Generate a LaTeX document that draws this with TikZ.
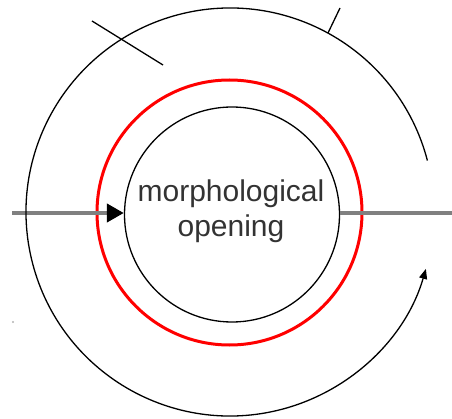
\documentclass[tikz,border=0pt]{standalone}
\usepackage{fontspec}
\setmainfont{Liberation Sans}
\usetikzlibrary{arrows.meta}
\begin{document}
\begin{tikzpicture}[x=1pt,y=1pt,
  ring/.style={circle,draw=black,line width=1.3pt,inner sep=0pt},
  redring/.style={circle,draw=red,line width=3pt,inner sep=0pt},
  feed/.style={draw=gray,line width=4pt},
  thin/.style={draw=black,line width=1.3pt},
  lbl/.style={font=\fontsize{30}{35}\selectfont,text=black!80,align=center,inner sep=0pt}]
\useasboundingbox (0,0) rectangle (452,418);
% circles
\node[ring,minimum size=215pt] (inner) at (232,203.5) {};
\node[redring,minimum size=265pt] (redc) at (229.5,205.5) {};
\node[lbl] (label) at (231,206.3) {morphological\\opening};
% feed line
\coordinate (in) at (12,205);
\coordinate (out) at (452,205);
\draw[feed,-{Triangle[black,length=17pt,width=18pt]}] (in) -- (in -| inner.west);
\draw[feed] (inner.east |- out) -- (out);
% outer feedback arc
\coordinate (oc) at (230,206);
\draw[thin,-{Triangle[length=10pt,width=8pt]}] (oc) ++(14.6:204) arc[start angle=14.6,end angle=343.8,radius=204];
% ticks
\coordinate (t1a) at (92,397);
\coordinate (t1b) at (163,353);
\coordinate (t2a) at (328,385);
\coordinate (t2b) at (340,410);
\draw[thin] (t1a) -- (t1b);
\draw[thin] (t2a) -- (t2b);
% faint dot
\fill[gray!60] (13,96) circle (1.2pt);
\end{tikzpicture}
\end{document}
